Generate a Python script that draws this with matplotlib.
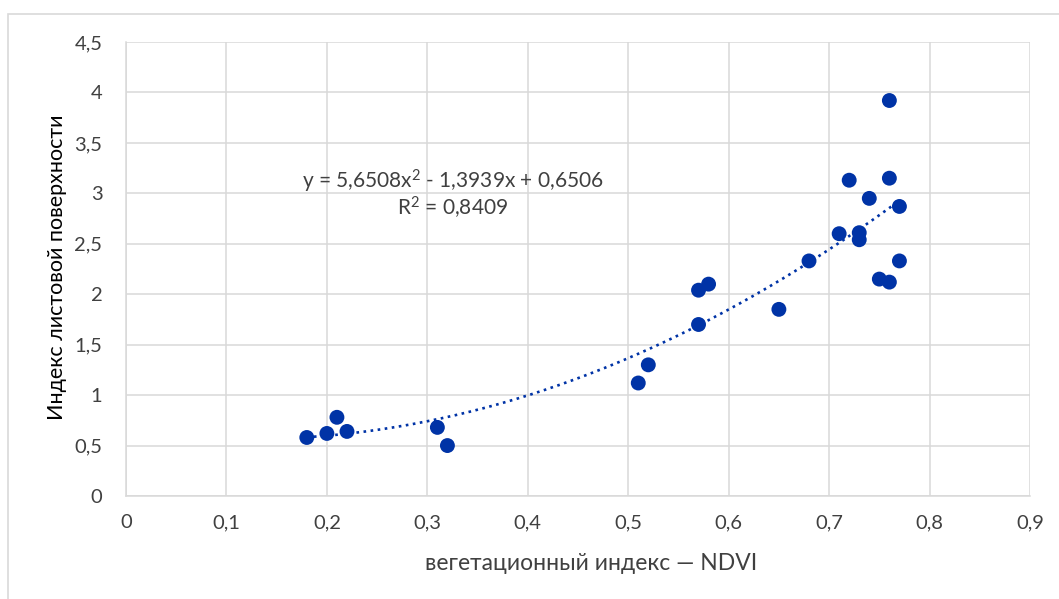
import matplotlib
matplotlib.use("Agg")
import matplotlib.pyplot as plt
from matplotlib.patches import Rectangle
import numpy as np

plt.rcParams['font.family'] = ['Lato', 'DejaVu Sans']
plt.rcParams['mathtext.fontset'] = 'custom'
plt.rcParams['mathtext.rm'] = 'Lato'
plt.rcParams['mathtext.it'] = 'Lato'
plt.rcParams['mathtext.default'] = 'regular'

ndvi = [0.18, 0.20, 0.21, 0.22, 0.31, 0.32, 0.51, 0.52, 0.57, 0.58, 0.57, 0.65,
        0.68, 0.71, 0.73, 0.73, 0.72, 0.74, 0.76, 0.76, 0.77, 0.77, 0.75, 0.76]
lai = [0.58, 0.62, 0.78, 0.64, 0.68, 0.50, 1.12, 1.30, 2.04, 2.10, 1.70, 1.85,
       2.33, 2.60, 2.61, 2.54, 3.13, 2.95, 3.92, 3.15, 2.87, 2.33, 2.15, 2.12]
trend_coef = [5.6508, -1.3939, 0.6506]
r2 = 0.8409

x_ticks = [0, 0.1, 0.2, 0.3, 0.4, 0.5, 0.6, 0.7, 0.8, 0.9]
y_ticks = [0, 0.5, 1, 1.5, 2, 2.5, 3, 3.5, 4, 4.5]

def fmt(v):
    return ('%g' % v).replace('.', ',')

color = '#0033a6'
grid = '#d9d9d9'
txt = '#404040'

fig = plt.figure(figsize=(10.59, 5.99), dpi=100)
fig.patches.append(Rectangle((8/1059, -0.2), 1.2, 1 - 14/599 + 0.2,
                             transform=fig.transFigure, fill=False,
                             edgecolor='#d9d9d9', linewidth=1.2))
ax = fig.add_axes([126/1059, 1 - 496/599, (1030 - 126)/1059, (496 - 42)/599])

ax.set_xlim(0, 0.9)
ax.set_ylim(0, 4.5)
ax.set_xticks(x_ticks)
ax.set_yticks(y_ticks)
ax.set_xticklabels([fmt(v) for v in x_ticks])
ax.set_yticklabels([fmt(v) for v in y_ticks])
ax.grid(True, color=grid, linewidth=1.1)
ax.set_axisbelow(True)
for s in ['top', 'right']:
    ax.spines[s].set_visible(False)
for s in ['left', 'bottom']:
    ax.spines[s].set_color(grid)
    ax.spines[s].set_linewidth(1.1)
ax.tick_params(length=0, labelsize=14.5, colors=txt, pad=13)
ax.tick_params(axis='y', pad=17)

xs = np.linspace(min(ndvi), max(ndvi), 200)
ax.plot(xs, np.polyval(trend_coef, xs), linestyle=(0, (1, 1.7)), color=color,
        linewidth=1.9, zorder=2)
ax.scatter(ndvi, lai, s=115, color=color, edgecolors='none', zorder=3)

eq = 'y = %sx$^{2}$ - %sx + %s' % (fmt(trend_coef[0]), fmt(-trend_coef[1]), fmt(trend_coef[2]))
ax.text(0.325, 3.12, eq, ha='center', va='center', fontsize=15, color=txt)
ax.text(0.325, 2.85, 'R$^{2}$ = %s' % fmt(r2), ha='center', va='center', fontsize=15, color=txt)

ax.set_xlabel('вегетационный индекс — NDVI', fontsize=16.5, color=txt, va='center')
ax.xaxis.set_label_coords(0.515, -0.1476)
ax.set_ylabel('Индекс листовой поверхности', fontsize=15.5, color='#000000', va='center')
ax.yaxis.set_label_coords(-0.0763, 0.504)

fig.savefig('out.png', dpi=100)
